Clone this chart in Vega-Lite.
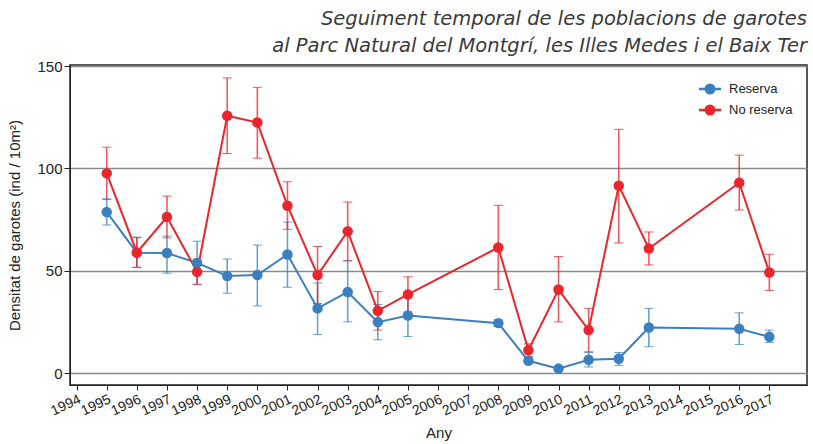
{
  "$schema": "https://vega.github.io/schema/vega-lite/v6.json",
  "width": 737,
  "height": 320,
  "autosize": {"type": "none"},
  "padding": {"left": 70, "top": 65, "right": 6, "bottom": 59},
  "background": "white",
  "title": {
    "text": ["Seguiment temporal de les poblacions de garotes", "al Parc Natural del Montgrí, les Illes Medes i el Baix Ter"],
    "anchor": "end",
    "frame": "group",
    "font": "DejaVu Sans",
    "fontStyle": "italic",
    "fontWeight": "normal",
    "fontSize": 19.5,
    "lineHeight": 27,
    "color": "#3a3a3a",
    "offset": 3
  },
  "config": {
    "view": {"stroke": "#222222", "strokeWidth": 1.5},
    "axis": {"labelFont": "Liberation Sans", "titleFont": "Liberation Sans", "labelColor": "#222222", "titleColor": "#222222", "titleFontWeight": "normal", "domainColor": "#222222", "tickColor": "#222222"}
  },
  "data": {
    "values": [
      {"year": 1995, "serie": "Reserva", "mean": 78.7, "lo": 72.4, "hi": 85.2},
      {"year": 1996, "serie": "Reserva", "mean": 58.9, "lo": 51.6, "hi": 66.5},
      {"year": 1997, "serie": "Reserva", "mean": 58.7, "lo": 48.9, "hi": 67.0},
      {"year": 1998, "serie": "Reserva", "mean": 53.9, "lo": 43.5, "hi": 64.5},
      {"year": 1999, "serie": "Reserva", "mean": 47.5, "lo": 39.1, "hi": 55.8},
      {"year": 2000, "serie": "Reserva", "mean": 48.0, "lo": 32.9, "hi": 62.6},
      {"year": 2001, "serie": "Reserva", "mean": 58.0, "lo": 42.0, "hi": 73.8},
      {"year": 2002, "serie": "Reserva", "mean": 31.7, "lo": 19.0, "hi": 44.1},
      {"year": 2003, "serie": "Reserva", "mean": 39.7, "lo": 25.1, "hi": 54.8},
      {"year": 2004, "serie": "Reserva", "mean": 25.0, "lo": 16.4, "hi": 33.6},
      {"year": 2005, "serie": "Reserva", "mean": 28.2, "lo": 18.0, "hi": 38.5},
      {"year": 2008, "serie": "Reserva", "mean": 24.5, "lo": 22.9, "hi": 26.1},
      {"year": 2009, "serie": "Reserva", "mean": 6.1, "lo": 5.1, "hi": 7.2},
      {"year": 2010, "serie": "Reserva", "mean": 2.3, "lo": 1.8, "hi": 2.8},
      {"year": 2011, "serie": "Reserva", "mean": 6.6, "lo": 3.1, "hi": 10.2},
      {"year": 2012, "serie": "Reserva", "mean": 7.1, "lo": 3.9, "hi": 10.2},
      {"year": 2013, "serie": "Reserva", "mean": 22.4, "lo": 13.0, "hi": 31.7},
      {"year": 2016, "serie": "Reserva", "mean": 21.7, "lo": 14.1, "hi": 29.5},
      {"year": 2017, "serie": "Reserva", "mean": 17.8, "lo": 15.1, "hi": 21.1},
      {"year": 1995, "serie": "No reserva", "mean": 97.6, "lo": 84.8, "hi": 110.4},
      {"year": 1996, "serie": "No reserva", "mean": 59.0, "lo": 51.8, "hi": 66.2},
      {"year": 1997, "serie": "No reserva", "mean": 76.3, "lo": 66.1, "hi": 86.5},
      {"year": 1998, "serie": "No reserva", "mean": 49.5, "lo": 43.3, "hi": 55.8},
      {"year": 1999, "serie": "No reserva", "mean": 125.7, "lo": 107.3, "hi": 144.2},
      {"year": 2000, "serie": "No reserva", "mean": 122.4, "lo": 105.0, "hi": 139.6},
      {"year": 2001, "serie": "No reserva", "mean": 81.8, "lo": 70.3, "hi": 93.5},
      {"year": 2002, "serie": "No reserva", "mean": 48.0, "lo": 34.1, "hi": 61.9},
      {"year": 2003, "serie": "No reserva", "mean": 69.3, "lo": 55.0, "hi": 83.6},
      {"year": 2004, "serie": "No reserva", "mean": 30.5, "lo": 21.1, "hi": 39.9},
      {"year": 2005, "serie": "No reserva", "mean": 38.5, "lo": 29.9, "hi": 47.1},
      {"year": 2008, "serie": "No reserva", "mean": 61.4, "lo": 40.9, "hi": 82.0},
      {"year": 2009, "serie": "No reserva", "mean": 11.3, "lo": 8.2, "hi": 14.4},
      {"year": 2010, "serie": "No reserva", "mean": 40.9, "lo": 25.1, "hi": 57.0},
      {"year": 2011, "serie": "No reserva", "mean": 21.1, "lo": 10.5, "hi": 31.7},
      {"year": 2012, "serie": "No reserva", "mean": 91.6, "lo": 63.6, "hi": 119.1},
      {"year": 2013, "serie": "No reserva", "mean": 60.9, "lo": 52.9, "hi": 69.0},
      {"year": 2016, "serie": "No reserva", "mean": 93.0, "lo": 79.7, "hi": 106.5},
      {"year": 2017, "serie": "No reserva", "mean": 49.2, "lo": 40.4, "hi": 58.1}
    ]
  },
  "encoding": {
    "x": {
      "field": "year",
      "type": "quantitative",
      "scale": {"domain": [1993.78, 2018.25], "nice": false, "zero": false},
      "axis": {
        "title": "Any",
        "values": [1994,1995,1996,1997,1998,1999,2000,2001,2002,2003,2004,2005,2006,2007,2008,2009,2010,2011,2012,2013,2014,2015,2016,2017],
        "format": "d",
        "labelAngle": -25,
        "labelAlign": "right",
        "labelBaseline": "top",
        "labelFontSize": 14,
        "labelPadding": 2,
        "labelFlush": false,
        "labelOverlap": false,
        "grid": false,
        "tickSize": 5,
        "titleFontSize": 15,
        "titlePadding": 8
      }
    },
    "color": {
      "field": "serie",
      "type": "nominal",
      "scale": {"domain": ["Reserva", "No reserva"], "range": ["#3a80c0", "#e8262c"]},
      "legend": {
        "title": null,
        "orient": "none",
        "legendX": 630,
        "legendY": 14,
        "labelFont": "Liberation Sans",
        "labelFontSize": 13,
        "labelColor": "#222222",
        "symbolType": "M-1.3,0L1.3,0M-0.5,0A0.5,0.5 0 1,1 0.5,0A0.5,0.5 0 1,1 -0.5,0Z",
        "symbolSize": 290,
        "symbolStrokeWidth": 2.5,
        "symbolOpacity": 1,
        "rowPadding": 1,
        "labelOffset": 9
      }
    }
  },
  "layer": [
    {
      "mark": {"type": "errorbar", "ticks": {"size": 9, "opacity": 0.75}, "rule": {"strokeWidth": 1.6, "opacity": 0.75}},
      "encoding": {
        "y": {
          "field": "lo",
          "type": "quantitative",
          "scale": {"domain": [-5.7, 150.5], "nice": false, "zero": false},
          "axis": {
            "title": "Densitat de garotes (ind / 10m²)",
            "values": [0, 50, 100, 150],
            "labelFontSize": 15,
            "titleFontSize": 15,
            "gridColor": "#8a8a8a",
            "gridWidth": 1.3,
            "tickSize": 6,
            "labelPadding": 2,
            "titlePadding": 14
          }
        },
        "y2": {"field": "hi"}
      }
    },
    {
      "mark": {"type": "line", "strokeWidth": 2, "point": {"filled": true, "size": 110, "opacity": 1}},
      "encoding": {
        "y": {"field": "mean", "type": "quantitative"}
      }
    }
  ]
}
